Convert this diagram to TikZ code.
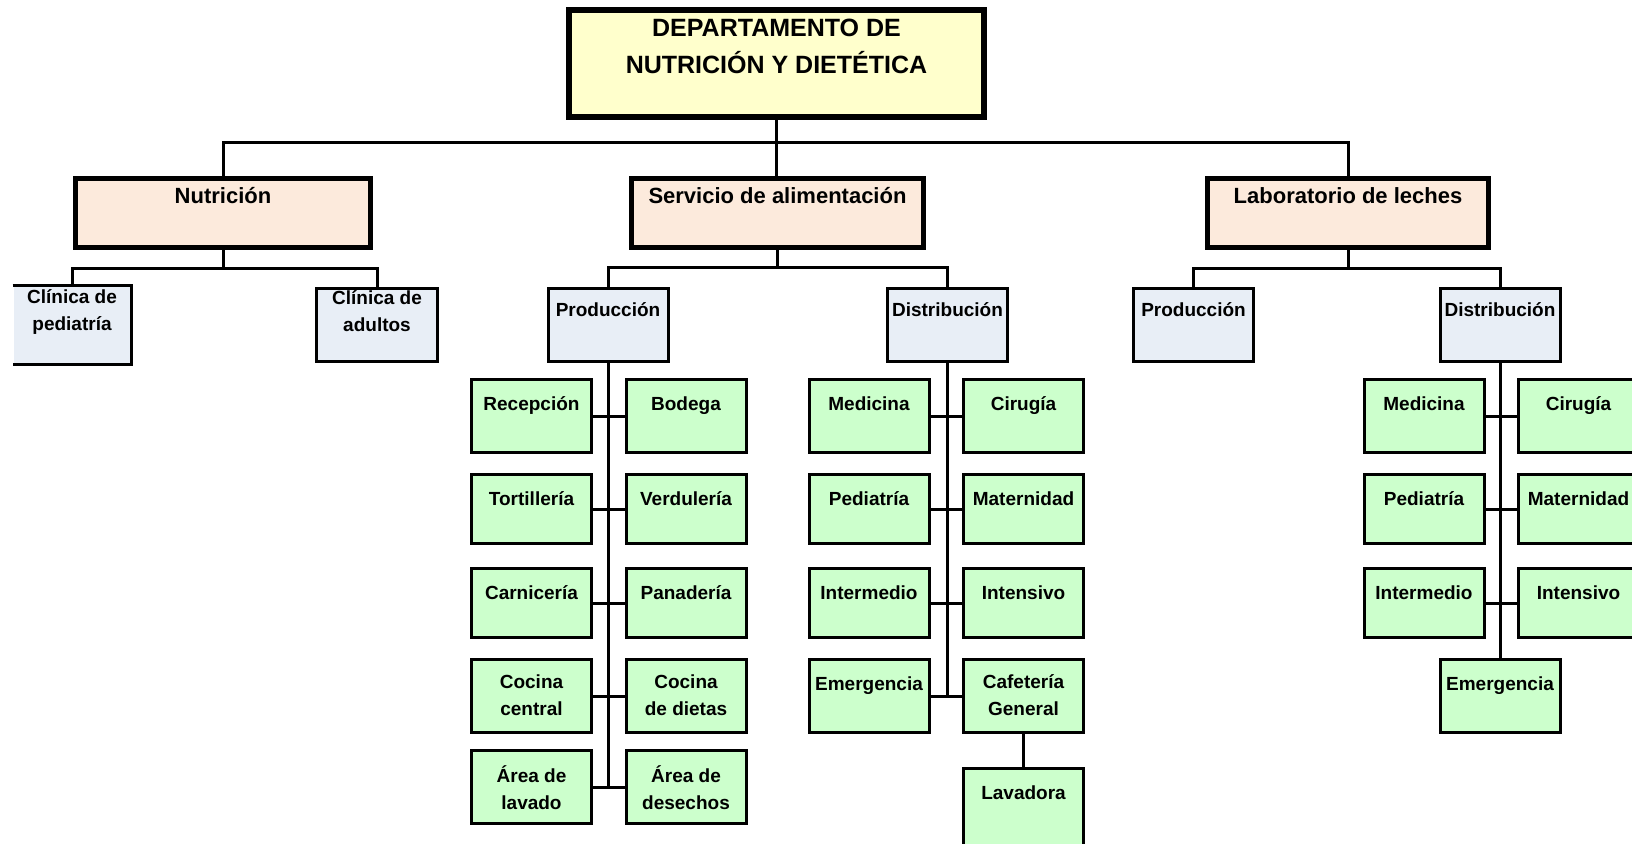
\documentclass[tikz,border=0pt]{standalone}
\usepackage{fontspec}
\setmainfont{Liberation Sans}
\definecolor{topfill}{RGB}{255,255,204}
\definecolor{secfill}{RGB}{252,234,220}
\definecolor{subfill}{RGB}{232,238,246}
\definecolor{leaffill}{RGB}{204,255,204}
\tikzset{
  conn/.style={draw=black, line width=3pt},
  headbox/.style={rectangle, draw=black, line width=6pt, fill=topfill,
    minimum width=415pt, minimum height=107pt, inner sep=0pt},
  secbox/.style={rectangle, draw=black, line width=5pt, fill=secfill,
    minimum height=69pt, inner sep=0pt},
  subbox/.style={rectangle, draw=black, line width=3pt, fill=subfill,
    minimum width=120pt, minimum height=73pt, inner sep=0pt},
  leafbox/.style={rectangle, draw=black, line width=3pt, fill=leaffill,
    minimum width=120pt, minimum height=73pt, inner sep=0pt},
  shortleaf/.style={leafbox, minimum height=69pt},
  headtxt/.style={anchor=north, inner sep=0pt, align=center, yshift=-12.1pt,
    font=\bfseries\fontsize{25}{37}\selectfont, execute at begin node=\strut},
  sectxt/.style={anchor=north, inner sep=0pt, align=center, yshift=-6.3pt,
    font=\bfseries\fontsize{22}{30}\selectfont, execute at begin node=\strut},
  subtxt/.style={anchor=north, inner sep=0pt, align=center, yshift=-10.6pt,
    font=\bfseries\fontsize{19}{27}\selectfont, execute at begin node=\strut},
  cltxt/.style={anchor=north, inner sep=0pt, align=center, yshift=-3.8pt,
    font=\bfseries\fontsize{19}{27}\selectfont, execute at begin node=\strut},
  leaftxt/.style={anchor=north, inner sep=0pt, align=center, yshift=-13.5pt,
    font=\bfseries\fontsize{19}{27}\selectfont, execute at begin node=\strut},
  twoline/.style={leaftxt, yshift=-3.1pt},
}
\begin{document}
\begin{tikzpicture}[x=1pt, y=-1pt]
\useasboundingbox (0,0) rectangle (1632,843);
\clip (0,0) rectangle (1632,843);

% ---- top level
\node[headbox, label={[headtxt]north:{DEPARTAMENTO DE\\NUTRICIÓN Y DIETÉTICA}}] (dep) at (776.5,63.5) {};

% ---- second level
\node[secbox, minimum width=295pt, label={[sectxt]north:Nutrición}] (nut) at (223,213) {};
\node[secbox, minimum width=292pt, label={[sectxt]north:Servicio de alimentación}] (ser) at (777.5,213) {};
\node[secbox, minimum width=281pt, label={[sectxt]north:Laboratorio de leches}] (lab) at (1348,213) {};

% ---- third level
\node[subbox, draw=none, minimum width=116pt, minimum height=76pt,
      label={[cltxt]north:{Clínica de\\pediatría}}] (cped) at (72,325) {};
\draw[line width=3pt] (cped.north west) -- (cped.north east) -- (cped.south east) -- (cped.south west);
\node[subbox, minimum width=121pt, label={[cltxt]north:{Clínica de\\adultos}}] (cadu) at (377,325) {};
\node[subbox, label={[subtxt]north:Producción}] (sprod) at (608,325) {};
\node[subbox, label={[subtxt]north:Distribución}] (sdis) at (947.5,325) {};
\node[subbox, label={[subtxt]north:Producción}] (lprod) at (1193.5,325) {};
\node[subbox, label={[subtxt]north:Distribución}] (ldis) at (1500,325) {};

% ---- production area
\node[leafbox,  label={[leaftxt]north:Recepción}] (p1l) at (531.5,416) {};
\node[leafbox,  label={[leaftxt]north:Bodega}] (p1r) at (686,416) {};
\node[shortleaf, label={[leaftxt]north:Tortillería}] (p2l) at (531.5,509) {};
\node[shortleaf, label={[leaftxt]north:Verdulería}] (p2r) at (686,509) {};
\node[shortleaf, label={[leaftxt]north:Carnicería}] (p3l) at (531.5,603) {};
\node[shortleaf, label={[leaftxt]north:Panadería}] (p3r) at (686,603) {};
\node[leafbox,  label={[twoline]north:{Cocina\\central}}] (p4l) at (531.5,696) {};
\node[leafbox,  label={[twoline]north:{Cocina\\de dietas}}] (p4r) at (686,696) {};
\node[leafbox,  label={[twoline]north:{Área de\\lavado}}] (p5l) at (531.5,787) {};
\node[leafbox,  label={[twoline]north:{Área de\\desechos}}] (p5r) at (686,787) {};

% ---- distribution area
\node[leafbox,  label={[leaftxt]north:Medicina}] (d1l) at (869,416) {};
\node[leafbox,  label={[leaftxt]north:Cirugía}] (d1r) at (1023.5,416) {};
\node[shortleaf, label={[leaftxt]north:Pediatría}] (d2l) at (869,509) {};
\node[shortleaf, label={[leaftxt]north:Maternidad}] (d2r) at (1023.5,509) {};
\node[shortleaf, label={[leaftxt]north:Intermedio}] (d3l) at (869,603) {};
\node[shortleaf, label={[leaftxt]north:Intensivo}] (d3r) at (1023.5,603) {};
\node[leafbox,  label={[leaftxt]north:Emergencia}] (d4l) at (869,696) {};
\node[leafbox,  label={[twoline]north:{Cafetería\\General}}] (d4r) at (1023.5,696) {};
\node[leafbox, minimum height=77pt, label={[leaftxt]north:Lavadora}] (lav) at (1023.5,807) {};

% ---- milk laboratory distribution
\node[leafbox,  label={[leaftxt]north:Medicina}] (l1l) at (1424,416) {};
\node[leafbox,  label={[leaftxt]north:Cirugía}] (l1r) at (1578.5,416) {};
\node[shortleaf, label={[leaftxt]north:Pediatría}] (l2l) at (1424,509) {};
\node[shortleaf, label={[leaftxt]north:Maternidad}] (l2r) at (1578.5,509) {};
\node[shortleaf, label={[leaftxt]north:Intermedio}] (l3l) at (1424,603) {};
\node[shortleaf, label={[leaftxt]north:Intensivo}] (l3r) at (1578.5,603) {};
\node[leafbox,  label={[leaftxt]north:Emergencia}] (lem) at (1500,696) {};

% ---- connectors
\coordinate (bus0) at (776.5,142);
\draw[conn] (dep.south) -- (dep.south |- ser.north);
\draw[conn] (nut.north) |- (bus0) -| (lab.north);

\coordinate (nbus) at (223,268);
\draw[conn] (nut.south) -- (nut.south |- nbus);
\draw[conn] (cped.north) |- (nbus) -| (cadu.north);

\coordinate (sbus) at (777.5,267);
\draw[conn] (ser.south) -- (ser.south |- sbus);
\draw[conn] (sprod.north) |- (sbus) -| (sdis.north);

\coordinate (lbus) at (1348,268);
\draw[conn] (lab.south) -- (lab.south |- lbus);
\draw[conn] (lprod.north) |- (lbus) -| (ldis.north);

\draw[conn] (sprod.south) -- (sprod.south |- p5l.east);
\foreach \r in {1,...,5} \draw[conn] (p\r l.east) -- (p\r r.west);

\draw[conn] (sdis.south) -- (sdis.south |- d4l.east);
\foreach \r in {1,...,4} \draw[conn] (d\r l.east) -- (d\r r.west);
\draw[conn] (d4r.south) -- (lav.north);

\draw[conn] (ldis.south) -- (ldis.south |- lem.north);
\foreach \r in {1,...,3} \draw[conn] (l\r l.east) -- (l\r r.west);
\end{tikzpicture}
\end{document}
